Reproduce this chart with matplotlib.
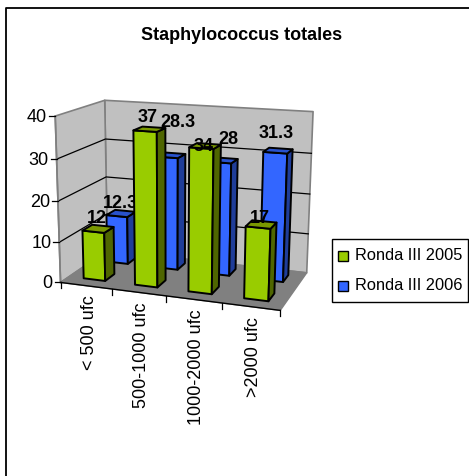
import matplotlib
matplotlib.use("Agg")
import matplotlib.pyplot as plt
from matplotlib.patches import Polygon
import numpy as np

plt.rcParams["font.family"] = ["Liberation Sans", "DejaVu Sans"]

CATEGORIES = ["< 500 ufc", "500-1000 ufc", "1000-2000 ufc", ">2000 ufc"]
SERIES_NAMES = ["Ronda III 2005", "Ronda III 2006"]
VALUES_2005 = [12, 37, 34, 17]
VALUES_2006 = [12.3, 28.3, 28, 31.3]
LABELS_2005 = ["12", "37", "34", "17"]
LABELS_2006 = ["12.3", "28.3", "28", "31.3"]
VALUE_TICKS = [0, 10, 20, 30, 40]

# face colours: front, side, top
GREEN = ("#99CC00", "#4F6600", "#7A9900")
BLUE = ("#3366FF", "#1F3D99", "#2952CC")
VMAX = 40.0

# box corners (u, v, w) -> pixel, used to fit the camera
CALIB = [
    ((0, 0, 0), (61, 282)), ((1, 0, 0), (280, 313)),
    ((0, 0, 1), (107, 253)), ((1, 0, 1), (307, 272)),
    ((0, 1, 0), (55, 117)), ((0, 1, 1), (105, 101)),
    ((1, 1, 1), (313, 113)),
]

# the source chart nudges its data labels by hand
SHIFT_2005 = [(-1, 1), (-2, 0), (-2, 12), (-1, 6)]
SHIFT_2006 = [(-1, 2), (7, -21), (5, -9), (-2, -6)]


def fit_camera():
    rows = []
    for (u, v, w), (x, y) in CALIB:
        rows.append([u, v, w, 1, 0, 0, 0, 0, -x * u, -x * v, -x * w, -x])
        rows.append([0, 0, 0, 0, u, v, w, 1, -y * u, -y * v, -y * w, -y])
    return np.linalg.svd(np.array(rows, float))[2][-1].reshape(3, 4)


CAM = fit_camera()


def proj(u, val, w):
    p = CAM @ np.array([u, val / VMAX, w, 1.0])
    return p[0] / p[2], p[1] / p[2]


fig = plt.figure(figsize=(4.69, 4.77), dpi=100)
ax = fig.add_axes([0, 0, 1, 1])
ax.set_xlim(0, 469)
ax.set_ylim(477, 0)
ax.axis("off")


def face(pts, color, edge="black", lw=1.4, z=1):
    ax.add_patch(Polygon(pts, closed=True, facecolor=color, edgecolor=edge,
                         linewidth=lw, joinstyle="round", zorder=z))


# outer frame, only top and left show in the source
ax.plot([6, 6, 469], [477, 9, 9], color="black", lw=1.3, zorder=1)

# walls and floor
face([proj(0, 0, 1), proj(1, 0, 1), proj(1, VMAX, 1), proj(0, VMAX, 1)],
     "#C0C0C0", edge="#808080", lw=1.2)
face([proj(0, 0, 0), proj(0, 0, 1), proj(0, VMAX, 1), proj(0, VMAX, 0)],
     "#C0C0C0", edge="#808080", lw=1.2)
face([proj(0, 0, 0), proj(1, 0, 0), proj(1, 0, 1), proj(0, 0, 1)],
     "#808080", edge="#808080", lw=1.0)

# gridlines
for t in VALUE_TICKS[1:-1]:
    xs, ys = zip(proj(0, t, 0), proj(0, t, 1), proj(1, t, 1))
    ax.plot(xs, ys, color="black", lw=0.9, zorder=2)

# axes lines, ticks
xs, ys = zip(proj(0, 0, 0), proj(0, VMAX, 0))
ax.plot(xs, ys, color="#808080", lw=1.2, zorder=2)
xs, ys = zip(proj(0, 0, 0), proj(1, 0, 0))
ax.plot(xs, ys, color="black", lw=1.0, zorder=2)
for t in VALUE_TICKS:
    x, y = proj(0, t, 0)
    ax.plot([x - 6, x], [y, y], color="black", lw=0.9, zorder=2)
    ax.text(x - 8, y, str(t), ha="right", va="center", fontsize=13, color="black")
n = len(CATEGORIES)
for i in range(n + 1):
    x, y = proj(i / n, 0, 0)
    ax.plot([x, x], [y, y + 6], color="black", lw=0.9, zorder=2)
for i, name in enumerate(CATEGORIES):
    x, y = proj((i + 0.5) / n, 0, 0)
    ax.text(x + 3, y + 9, name, rotation=90, ha="center", va="top", fontsize=13)


def bar(i, value, label, shift, w0, w1, colors, z):
    u0 = (i + 0.5) / n - 0.053
    u1 = (i + 0.5) / n + 0.053
    face([proj(u0, 0, w0), proj(u1, 0, w0), proj(u1, value, w0), proj(u0, value, w0)],
         colors[0], z=z)
    face([proj(u1, 0, w0), proj(u1, 0, w1), proj(u1, value, w1), proj(u1, value, w0)],
         colors[1], z=z)
    face([proj(u0, value, w0), proj(u1, value, w0), proj(u1, value, w1), proj(u0, value, w1)],
         colors[2], z=z)
    x, y = proj((u0 + u1) / 2, value, (w0 + w1) / 2)
    ax.text(x + shift[0], y - 4 + shift[1], label, ha="center", va="bottom",
            fontsize=13, weight="bold", zorder=z)


for i in range(n):
    bar(i, VALUES_2006[i], LABELS_2006[i], SHIFT_2006[i], 0.68, 0.88, BLUE, 3)
for i in range(n):
    bar(i, VALUES_2005[i], LABELS_2005[i], SHIFT_2005[i], 0.17, 0.37, GREEN, 4)

ax.text(241.5, 35, "Staphylococcus totales", ha="center", va="center",
        fontsize=13, weight="bold")

# legend box
ax.add_patch(Polygon([(332, 240), (468, 240), (468, 303), (332, 303)], closed=True,
                     facecolor="white", edgecolor="black", linewidth=1.0, zorder=5))
for y, name, colors in zip([257, 287], SERIES_NAMES, [GREEN, BLUE]):
    ax.add_patch(Polygon([(338, y - 5), (348, y - 5), (348, y + 5), (338, y + 5)],
                         closed=True, facecolor=colors[0], edgecolor="black",
                         linewidth=1.0, zorder=6))
    ax.text(355, y - 1.5, name, ha="left", va="center", fontsize=11.8, zorder=6)

fig.savefig("out.png", dpi=100)
